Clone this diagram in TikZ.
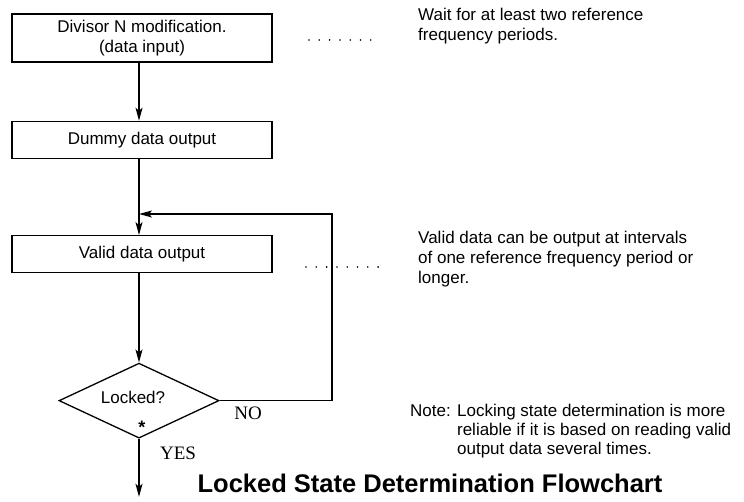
\documentclass[tikz,border=0pt]{standalone}
\usepackage{fontspec}
\setmainfont{Liberation Sans}
\newfontfamily\serifword{Liberation Serif}
\usetikzlibrary{arrows.meta,positioning,shapes.geometric}

\begin{document}
\begin{tikzpicture}[x=1pt,y=-1pt,>={Stealth[length=13pt,width=7pt,inset=3pt]},
  font=\fontsize{17}{20}\selectfont]
  \tikzstyle{box}=[draw,line width=1.4pt,align=center,minimum width=260pt,inner sep=0pt]
  \tikzstyle{flow}=[line width=1.3pt]
  \tikzstyle{leader}=[line width=1.8pt,line cap=round,dash pattern=on 0pt off 10.3pt]
  \tikzstyle{remark}=[anchor=north west,align=left,inner sep=0pt]
  \useasboundingbox (0,0) rectangle (744,502);
  % flow boxes
  \node[box,minimum height=48pt] (modif) at (142,38) {Divisor N modification.\\(data input)};
  \node[box,minimum height=37pt,below=58pt of modif] (dummy) {Dummy data output};
  \node[box,minimum height=37pt,below=76pt of dummy] (valid) {Valid data output};
  \node[draw,line width=1.3pt,diamond,aspect=2.1,minimum width=160pt,minimum height=75pt,
        inner sep=0pt,below=89pt of valid,xshift=-3pt] (lock) {};
  \node (locktxt) at (133,397) {Locked?};
  \node[inner sep=0pt,font=\bfseries\fontsize{18}{20}\selectfont] (star) at (142,427) {*};
  \node[font=\serifword\fontsize{19}{20}\selectfont] (no) at (248,413) {NO};
  \node[font=\serifword\fontsize{19}{20}\selectfont] (yes) at (178,453) {YES};
  \coordinate (join) at (lock.north |- 0,214);
  \coordinate (loopc) at (332,0);
  \coordinate (endc) at ([yshift=-58pt]lock.south);
  % connectors
  \draw[flow,->] (modif.south -| lock.north) -- (dummy.north -| lock.north);
  \draw[flow,->] (dummy.south -| lock.north) -- (valid.north -| lock.north);
  \draw[flow,->] (valid.south -| lock.north) -- (lock.north);
  \draw[flow,->] (lock.east) -- (lock.east -| loopc) -- (loopc |- join) -- (join);
  \draw[flow,->] (lock.south) -- (endc);
  % remarks
  \coordinate (lda) at (309,40);
  \coordinate (ldb) at (381,40);
  \coordinate (ldc) at (306,267);
  \coordinate (ldd) at (381,267);
  \draw[leader] (lda) -- (ldb);
  \draw[leader] (ldc) -- (ldd);
  \node[remark] (wait) at (418,8) {Wait for at least two reference\\frequency periods.};
  \node[remark] (intv) at (418,231) {Valid data can be output at intervals\\of one reference frequency period or\\longer.};
  \node[remark] (note) at (410,402) {\begin{tabular}{@{}l@{ }l@{}}Note:&Locking state determination is more\\[-1pt]
    &reliable if it is based on reading valid\\[-1pt] &output data several times.\end{tabular}};
  \node[font=\bfseries\fontsize{25.5}{27}\selectfont] (title) at (430,483) {Locked State Determination Flowchart};
\end{tikzpicture}
\end{document}
